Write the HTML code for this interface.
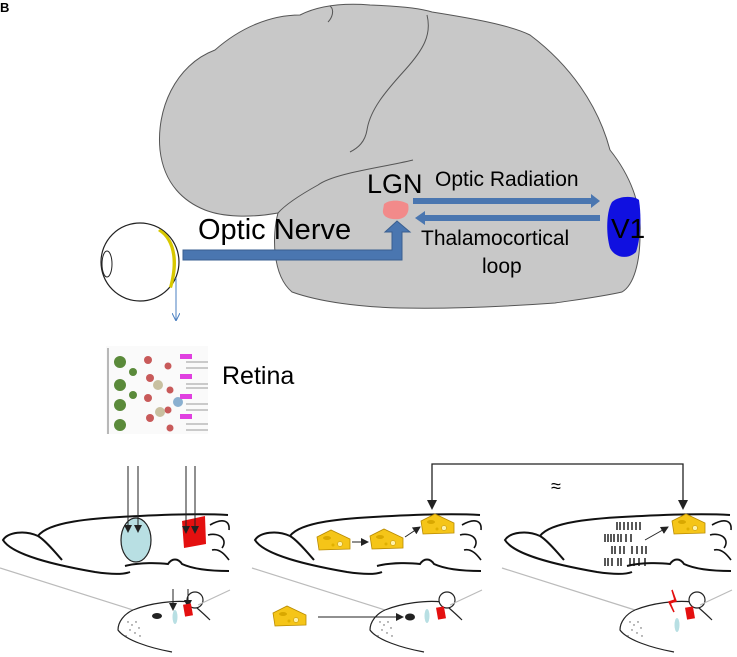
<!DOCTYPE html>
<html><head><meta charset="utf-8"><style>
html,body{margin:0;padding:0;background:#fff;width:737px;height:657px;overflow:hidden}
svg{display:block}
text{font-family:"Liberation Sans",sans-serif}
</style></head><body>
<svg width="737" height="657" viewBox="0 0 737 657" xmlns="http://www.w3.org/2000/svg">
<defs>
<marker id="ah" markerWidth="8" markerHeight="8" refX="7" refY="4" orient="auto" markerUnits="userSpaceOnUse"><path d="M0,0 L8,4 L0,8 z" fill="#222"/></marker>
<marker id="ab" markerWidth="8" markerHeight="8" refX="7" refY="4" orient="auto" markerUnits="userSpaceOnUse"><path d="M0,0 L8,4 L0,8" fill="none" stroke="#4a7fc0"/></marker>
<g id="rb">
<path d="M62,560 C55,552 45,540 38,536 C25,530 8,532 3,540 C12,555 55,565 95,572 C115,575 125,574 130,572" fill="none" stroke="#111" stroke-width="2"/>
<path d="M38,536 C48,522 90,518 140,516 C180,514 210,514 228,515" fill="none" stroke="#111" stroke-width="2"/>
<path d="M125,566 C140,562 160,563 168,564 C172,558 178,558 182,564 C195,570 215,571 229,571" fill="none" stroke="#111" stroke-width="2"/>
<path d="M210,525 C222,518 230,520 229,530 M208,535 C220,532 228,540 222,548 M212,550 C220,548 226,556 229,560" fill="none" stroke="#111" stroke-width="1.6"/>
<path d="M0,568 L133,610" stroke="#bbb" stroke-width="1.2"/>
<path d="M133,610 C124,614 118,622 118,630 C125,640 150,648 172,652" fill="none" stroke="#222" stroke-width="1.2"/>
<path d="M133,610 C150,603 175,600 190,602" fill="none" stroke="#222" stroke-width="1.2"/>
<circle cx="195" cy="600" r="8" fill="#fff" stroke="#222" stroke-width="1.2"/>
<path d="M197,608 C205,615 208,618 210,620" fill="none" stroke="#222" stroke-width="1.2"/>
<path d="M198,605 L230,590" stroke="#bbb" stroke-width="1.2"/>
<g fill="#555"><circle cx="128" cy="622" r=".7"/><circle cx="132" cy="625" r=".7"/><circle cx="136" cy="622" r=".7"/><circle cx="130" cy="630" r=".7"/><circle cx="135" cy="633" r=".7"/><circle cx="139" cy="628" r=".7"/><circle cx="140" cy="636" r=".7"/><circle cx="126" cy="636" r=".7"/></g>
</g>
<g id="ch"><path d="M0,7 L14,0 L33,9 L33,19 L2,20 z" fill="#f5c518" stroke="#b88a00" stroke-width=".8"/><ellipse cx="10" cy="8" rx="4" ry="2" fill="#d9a800"/><circle cx="23" cy="14" r="2.5" fill="#fff2a8" stroke="#b88a00" stroke-width=".5"/><circle cx="16" cy="15" r="1.5" fill="#e0b000"/></g>
</defs>

<text x="0" y="12" font-size="13" font-weight="bold">B</text>

<!-- Human brain -->
<path d="M160,150 C156,110 175,65 215,50 C240,28 270,15 300,15 C320,5 345,3 370,5 C400,6 420,8 432,12 C470,18 510,25 530,35 C570,65 598,105 610,150 C630,175 642,205 640,235 C640,262 634,285 622,292 C600,297 575,300 555,303 C500,307 450,309 400,308 C360,307 320,302 292,292 C272,275 272,235 278,213 C250,218 223,217 205,210 C185,202 164,185 160,150 z" fill="#c8c8c8" stroke="#555" stroke-width="1"/>
<path d="M427,15 C432,35 423,50 405,70 C385,92 370,110 367,130 C365,142 358,148 350,152" fill="none" stroke="#555" stroke-width="1"/>
<path d="M413,160 C380,168 335,173 318,185 C300,195 285,205 278,213" fill="none" stroke="#555" stroke-width="1"/>
<path d="M330,6 C335,10 332,18 328,22" fill="none" stroke="#555" stroke-width="1"/>

<!-- V1 -->
<path d="M612,202 C620,195 635,196 639,200 C642,220 640,240 636,252 C628,260 615,258 610,248 C606,235 606,212 612,202 z" fill="#1010e0"/>
<!-- LGN -->
<path d="M384,204 C390,199 402,200 408,204 C410,212 406,218 399,219 C388,220 382,216 383,210 z" fill="#f28a8a"/>

<!-- Optic nerve arrow -->
<path d="M183,250 L392,250 L392,232 L385,232 L397,221 L410,232 L402,232 L402,260 L183,260 z" fill="#4a76b0" stroke="#3a5f90" stroke-width="1"/>
<!-- Optic radiation -->
<rect x="413" y="198" width="180" height="6" fill="#4a76b0"/>
<path d="M591,194 L600,201 L591,208 z" fill="#4a76b0"/>
<rect x="424" y="215" width="176" height="6" fill="#4a76b0"/>
<path d="M425,211 L415,218 L425,225 z" fill="#4a76b0"/>

<!-- Eye -->
<circle cx="140" cy="262" r="39" fill="#fff" stroke="#222" stroke-width="1.2"/>
<ellipse cx="107" cy="264" rx="5" ry="13" fill="none" stroke="#222" stroke-width="1"/>
<path d="M160,229 C176,238 180,262 172,288 L169,287 C176,262 173,240 158,231 z" fill="#d8c800"/>
<line x1="176" y1="278" x2="176" y2="320" stroke="#4a7fc0" stroke-width="1" marker-end="url(#ab)"/>

<!-- Retina image -->
<g>
<rect x="106" y="346" width="102" height="88" fill="#fafafa"/>
<g fill="#5a8a3a"><circle cx="120" cy="362" r="6"/><circle cx="120" cy="385" r="6"/><circle cx="120" cy="405" r="6"/><circle cx="120" cy="425" r="6"/><circle cx="133" cy="372" r="4"/><circle cx="133" cy="395" r="4"/></g>
<g fill="#c85a5a"><circle cx="148" cy="360" r="4"/><circle cx="150" cy="378" r="4"/><circle cx="148" cy="398" r="4"/><circle cx="150" cy="418" r="4"/><circle cx="168" cy="366" r="3.5"/><circle cx="170" cy="390" r="3.5"/><circle cx="168" cy="410" r="3.5"/><circle cx="170" cy="428" r="3.5"/></g>
<circle cx="158" cy="385" r="5" fill="#c8c0a0"/><circle cx="160" cy="412" r="5" fill="#c8c0a0"/>
<circle cx="178" cy="402" r="5" fill="#8ab0d0"/>
<g fill="#e040e0"><rect x="180" y="354" width="12" height="5"/><rect x="180" y="374" width="12" height="5"/><rect x="180" y="394" width="12" height="5"/><rect x="180" y="414" width="12" height="5"/></g>
<g stroke="#999" stroke-width="1"><line x1="186" y1="362" x2="208" y2="362"/><line x1="186" y1="368" x2="208" y2="368"/><line x1="186" y1="384" x2="208" y2="384"/><line x1="186" y1="388" x2="208" y2="388"/><line x1="186" y1="404" x2="208" y2="404"/><line x1="186" y1="410" x2="208" y2="410"/><line x1="186" y1="424" x2="208" y2="424"/><line x1="186" y1="430" x2="208" y2="430"/></g>
<line x1="108" y1="348" x2="108" y2="434" stroke="#777"/>
</g>

<!-- Labels -->
<text x="367" y="193" font-size="27">LGN</text>
<text x="435" y="186" font-size="21">Optic Radiation</text>
<text x="198" y="239" font-size="29">Optic Nerve</text>
<text x="421" y="245" font-size="21">Thalamocortical</text>
<text x="482" y="273" font-size="21">loop</text>
<text x="611" y="238" font-size="28">V1</text>
<text x="222" y="384" font-size="25">Retina</text>

<!-- Bottom panels -->
<use href="#rb"/>
<use href="#rb" x="252"/>
<use href="#rb" x="502"/>

<!-- panel1 -->
<ellipse cx="136" cy="540" rx="15" ry="22" fill="#b8dfe3" stroke="#222" stroke-width="1.2"/>
<path d="M182,521 L205,516 L206,544 L184,548 z" fill="#e41010"/>
<g stroke="#222" stroke-width="1"><line x1="128" y1="466" x2="128" y2="532" marker-end="url(#ah)"/><line x1="138" y1="466" x2="138" y2="532" marker-end="url(#ah)"/><line x1="186" y1="466" x2="186" y2="533" marker-end="url(#ah)"/><line x1="195" y1="466" x2="195" y2="533" marker-end="url(#ah)"/>
<line x1="173" y1="589" x2="173" y2="610" marker-end="url(#ah)"/><line x1="188" y1="589" x2="188" y2="607" marker-end="url(#ah)"/></g>
<ellipse cx="157" cy="616" rx="5" ry="3" fill="#222"/>
<ellipse cx="175" cy="617" rx="2.5" ry="7" fill="#b8dfe3"/>
<rect x="184" y="604" width="8" height="12" fill="#e41010" transform="rotate(-10 188 610)"/>

<!-- panel2 -->
<use href="#ch" x="317" y="530"/>
<use href="#ch" x="370" y="529"/>
<use href="#ch" x="421" y="514"/>
<g stroke="#222" stroke-width="1"><line x1="352" y1="542" x2="368" y2="542" marker-end="url(#ah)"/><line x1="405" y1="537" x2="420" y2="527" marker-end="url(#ah)"/></g>
<use href="#ch" x="273" y="606"/>
<line x1="318" y1="617" x2="403" y2="617" stroke="#222" stroke-width="1" marker-end="url(#ah)"/>
<ellipse cx="410" cy="617" rx="5" ry="3.5" fill="#222"/>
<ellipse cx="427" cy="616" rx="2.5" ry="7" fill="#b8dfe3"/>
<rect x="437" y="607" width="8" height="12" fill="#e41010" transform="rotate(-10 441 613)"/>

<!-- panel3 -->
<g stroke="#111" stroke-width="1.4">
<path d="M617,522v8M620,522v8M624,522v8M628,522v8M632,522v8M636,522v8M640,522v8"/>
<path d="M605,534v8M608,534v8M611,534v8M614,534v8M618,534v8M621,534v8M626,534v8M631,534v8"/>
<path d="M612,546v8M615,546v8M620,546v8M624,546v8M632,546v8M637,546v8M642,546v8M646,546v8"/>
<path d="M605,558v8M608,558v8M612,558v8M618,558v8M621,558v8M630,558v8M634,558v8M639,558v8M645,558v8"/>
</g>
<use href="#ch" x="672" y="514"/>
<line x1="645" y1="540" x2="668" y2="527" stroke="#222" stroke-width="1" marker-end="url(#ah)"/>
<path d="M672,590 L675,600 L669,602 L674,612 L670,603 L676,601 z" fill="#e41010" stroke="#e41010" stroke-width="1.5"/>
<ellipse cx="677" cy="625" rx="2.5" ry="7" fill="#b8dfe3"/>
<rect x="686" y="607" width="8" height="12" fill="#e41010" transform="rotate(-10 690 613)"/>

<!-- bracket -->
<path d="M432,506 L432,464 L683,464 L683,506" fill="none" stroke="#222" stroke-width="1.3"/>
<path d="M427,500 L432,510 L437,500 z M678,500 L683,510 L688,500 z" fill="#222"/>
<text x="551" y="492" font-size="18">≈</text>
</svg>
</body></html>
